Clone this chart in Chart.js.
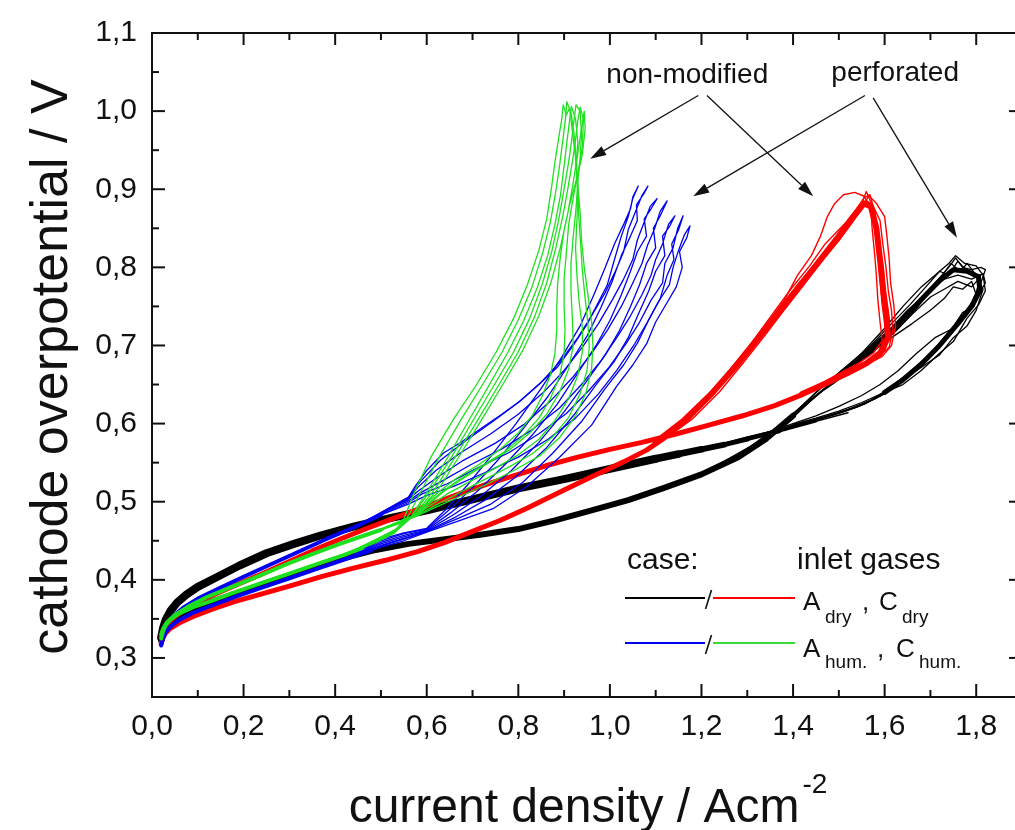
<!DOCTYPE html>
<html>
<head>
<meta charset="utf-8">
<script src="https://cdn.jsdelivr.net/npm/chart.js@4.4.0/dist/chart.umd.min.js"></script>
<style>
  html, body { margin: 0; padding: 0; background: #fff; overflow: hidden; }
  #wrap { width: 1040px; height: 830px; }
</style>
</head>
<body>
<div id="wrap"><canvas id="chart" width="1040" height="830"></canvas></div>
<script>
// axis ticks
const xTicks = [0, 0.2, 0.4, 0.6, 0.8, 1.0, 1.2, 1.4, 1.6, 1.8];
const xMinor = [0.1, 0.3, 0.5, 0.7, 0.9, 1.1, 1.3, 1.5, 1.7];
const yTicks = [0.3, 0.4, 0.5, 0.6, 0.7, 0.8, 0.9, 1.0, 1.1];
const yMinor = [0.35, 0.45, 0.55, 0.65, 0.75, 0.85, 0.95, 1.05];

// black: perforated, A_dry / C_dry
const blackFlat = [[0.02,0.326],[0.024,0.338],[0.03,0.349],[0.04,0.36],[0.055,0.371],[0.075,0.381],[0.1,0.391],[0.14,0.403],[0.19,0.418],[0.25,0.434],[0.31,0.446],[0.37,0.457],[0.44,0.468],[0.52,0.479],[0.6,0.489],[0.7,0.503],[0.8,0.517],[0.9,0.529],[1.0,0.542],[1.1,0.555],[1.15,0.561],[1.2,0.567],[1.25,0.573],[1.3,0.58],[1.37,0.59],[1.45,0.603],[1.52,0.614]];
const blackSteep = [[0.02,0.322],[0.024,0.332],[0.03,0.34],[0.04,0.347],[0.055,0.354],[0.08,0.361],[0.11,0.368],[0.15,0.376],[0.2,0.386],[0.26,0.398],[0.32,0.41],[0.4,0.425],[0.48,0.437],[0.56,0.446],[0.64,0.452],[0.72,0.458],[0.8,0.465],[0.88,0.476],[0.96,0.489],[1.04,0.502],[1.12,0.518],[1.2,0.535],[1.28,0.557],[1.34,0.58],[1.4,0.61]];
const blackTop = [[1.5,0.66],[1.55,0.684],[1.6,0.71],[1.65,0.74],[1.69,0.765],[1.72,0.783],[1.75,0.797],[1.78,0.795],[1.805,0.788],[1.808,0.77],[1.79,0.75],[1.76,0.728],[1.72,0.7],[1.68,0.676],[1.64,0.656],[1.6,0.64]];
const blackCycles = [
  [[1.2,0.535],[1.26,0.552],[1.32,0.572],[1.38,0.597],[1.44,0.63],[1.5,0.66],[1.55,0.684],[1.6,0.71],[1.64,0.735],[1.68,0.76],[1.71,0.78],[1.74,0.8],[1.755,0.812],[1.77,0.8],[1.79,0.797],[1.81,0.8],[1.82,0.797],[1.81,0.78],[1.79,0.755],[1.76,0.73],[1.72,0.7],[1.68,0.675],[1.64,0.655],[1.6,0.638],[1.55,0.624],[1.5,0.614],[1.45,0.605],[1.4,0.597],[1.35,0.59],[1.3,0.582],[1.25,0.574]],
  [[1.2,0.537],[1.25,0.552],[1.31,0.572],[1.37,0.598],[1.43,0.628],[1.49,0.652],[1.54,0.676],[1.59,0.7],[1.63,0.722],[1.67,0.748],[1.7,0.77],[1.73,0.785],[1.76,0.79],[1.79,0.785],[1.815,0.792],[1.82,0.78],[1.8,0.76],[1.775,0.74],[1.745,0.72],[1.71,0.694],[1.67,0.672],[1.63,0.652],[1.59,0.635],[1.54,0.621],[1.49,0.611],[1.44,0.603],[1.39,0.595],[1.34,0.588],[1.3,0.581],[1.25,0.573]],
  [[1.2,0.534],[1.27,0.556],[1.33,0.578],[1.39,0.606],[1.45,0.64],[1.51,0.67],[1.56,0.694],[1.61,0.72],[1.65,0.745],[1.69,0.766],[1.72,0.785],[1.745,0.805],[1.765,0.795],[1.78,0.805],[1.8,0.79],[1.81,0.77],[1.795,0.75],[1.77,0.742],[1.74,0.715],[1.7,0.69],[1.66,0.668],[1.62,0.648],[1.58,0.632],[1.53,0.62],[1.48,0.61],[1.43,0.601],[1.38,0.594],[1.33,0.587],[1.3,0.583],[1.25,0.575]],
  [[1.2,0.536],[1.25,0.549],[1.3,0.566],[1.36,0.59],[1.42,0.622],[1.47,0.646],[1.52,0.668],[1.57,0.69],[1.62,0.716],[1.66,0.74],[1.7,0.762],[1.73,0.772],[1.76,0.782],[1.79,0.775],[1.805,0.785],[1.815,0.772],[1.8,0.745],[1.78,0.725],[1.75,0.71],[1.72,0.688],[1.69,0.676],[1.65,0.66],[1.61,0.642],[1.56,0.626],[1.51,0.615],[1.46,0.607],[1.41,0.6],[1.36,0.591],[1.3,0.582],[1.25,0.574]],
  [[1.2,0.535],[1.27,0.557],[1.34,0.583],[1.4,0.612],[1.46,0.645],[1.52,0.675],[1.57,0.7],[1.615,0.728],[1.655,0.752],[1.69,0.775],[1.72,0.795],[1.74,0.79],[1.76,0.808],[1.785,0.792],[1.81,0.79],[1.8,0.768],[1.785,0.748],[1.755,0.728],[1.725,0.705],[1.69,0.684],[1.65,0.664],[1.61,0.645],[1.57,0.63],[1.52,0.618],[1.47,0.609],[1.42,0.601],[1.37,0.593],[1.32,0.585],[1.3,0.582],[1.25,0.573]],
  [[1.3,0.566],[1.38,0.6],[1.46,0.64],[1.53,0.672],[1.58,0.695],[1.62,0.712],[1.66,0.728],[1.7,0.745],[1.73,0.76],[1.75,0.775],[1.77,0.772],[1.79,0.782],[1.8,0.765],[1.78,0.74],[1.75,0.722],[1.71,0.71],[1.67,0.69],[1.63,0.668],[1.59,0.65],[1.55,0.636],[1.5,0.622],[1.45,0.61],[1.4,0.6],[1.35,0.59]],
  [[1.32,0.574],[1.4,0.61],[1.48,0.65],[1.55,0.69],[1.6,0.722],[1.64,0.75],[1.68,0.775],[1.71,0.79],[1.74,0.805],[1.755,0.815],[1.775,0.805],[1.8,0.802],[1.815,0.79],[1.82,0.77],[1.805,0.752],[1.78,0.735],[1.75,0.705],[1.72,0.69],[1.68,0.668],[1.64,0.65],[1.6,0.64],[1.55,0.627],[1.5,0.616],[1.45,0.607],[1.4,0.599]]
];

// red: non-modified, A_dry / C_dry
const redFwd = [[0.02,0.318],[0.024,0.326],[0.03,0.332],[0.04,0.338],[0.06,0.345],[0.09,0.353],[0.13,0.362],[0.18,0.372],[0.24,0.382],[0.3,0.392],[0.37,0.404],[0.44,0.415],[0.51,0.425],[0.58,0.436],[0.64,0.448],[0.7,0.462],[0.76,0.476],[0.82,0.492],[0.89,0.512],[0.96,0.532],[1.03,0.551],[1.08,0.566],[1.12,0.582]];
const redRet = [[1.42,0.637],[1.36,0.623],[1.29,0.61],[1.21,0.597],[1.14,0.586],[1.07,0.576],[1.0,0.567],[0.93,0.557],[0.86,0.546],[0.8,0.535],[0.74,0.524],[0.68,0.512],[0.62,0.499],[0.57,0.488],[0.52,0.477],[0.47,0.466],[0.41,0.452],[0.35,0.437],[0.29,0.421],[0.23,0.405],[0.17,0.39],[0.12,0.377],[0.08,0.365],[0.05,0.353],[0.033,0.343],[0.024,0.334],[0.02,0.327]];
const redCore = [[1.1,0.576],[1.16,0.603],[1.22,0.637],[1.28,0.677],[1.33,0.714],[1.38,0.75],[1.42,0.78],[1.46,0.81],[1.5,0.84],[1.53,0.864],[1.555,0.882],[1.57,0.878],[1.582,0.85],[1.59,0.81],[1.597,0.77],[1.605,0.735],[1.607,0.71],[1.59,0.69],[1.56,0.677],[1.52,0.665],[1.47,0.651],[1.42,0.638]];
const redCycles = [
  [[1.12,0.582],[1.17,0.603],[1.22,0.633],[1.27,0.668],[1.32,0.706],[1.36,0.737],[1.4,0.768],[1.44,0.798],[1.48,0.827],[1.51,0.851],[1.535,0.872],[1.555,0.889],[1.568,0.893],[1.578,0.872],[1.582,0.845],[1.586,0.815],[1.59,0.785],[1.594,0.755],[1.6,0.728],[1.604,0.705],[1.59,0.69],[1.565,0.679],[1.53,0.668],[1.49,0.657],[1.45,0.646],[1.42,0.638]],
  [[1.12,0.584],[1.18,0.612],[1.23,0.643],[1.28,0.68],[1.33,0.718],[1.37,0.748],[1.41,0.778],[1.45,0.806],[1.49,0.834],[1.52,0.857],[1.545,0.875],[1.562,0.885],[1.575,0.878],[1.59,0.86],[1.596,0.83],[1.603,0.8],[1.608,0.77],[1.615,0.745],[1.618,0.72],[1.61,0.698],[1.585,0.684],[1.55,0.673],[1.51,0.662],[1.47,0.65],[1.42,0.637]],
  [[1.12,0.583],[1.19,0.619],[1.25,0.656],[1.3,0.694],[1.35,0.733],[1.38,0.757],[1.41,0.79],[1.44,0.815],[1.46,0.84],[1.475,0.865],[1.49,0.881],[1.51,0.893],[1.535,0.896],[1.555,0.891],[1.57,0.875],[1.573,0.848],[1.578,0.818],[1.582,0.79],[1.585,0.76],[1.59,0.73],[1.595,0.706],[1.575,0.69],[1.545,0.678],[1.5,0.664],[1.46,0.651],[1.42,0.639]],
  [[1.12,0.58],[1.18,0.606],[1.24,0.641],[1.29,0.677],[1.34,0.714],[1.38,0.745],[1.42,0.775],[1.46,0.806],[1.5,0.834],[1.53,0.858],[1.55,0.874],[1.565,0.892],[1.582,0.882],[1.6,0.865],[1.605,0.84],[1.61,0.81],[1.613,0.78],[1.62,0.752],[1.624,0.725],[1.615,0.7],[1.595,0.686],[1.56,0.675],[1.52,0.664],[1.47,0.651],[1.42,0.636]],
  [[1.12,0.585],[1.17,0.607],[1.22,0.637],[1.27,0.675],[1.31,0.704],[1.355,0.74],[1.395,0.772],[1.435,0.801],[1.47,0.83],[1.5,0.848],[1.53,0.866],[1.548,0.878],[1.56,0.897],[1.57,0.883],[1.58,0.86],[1.588,0.828],[1.597,0.8],[1.601,0.768],[1.608,0.74],[1.612,0.712],[1.6,0.694],[1.575,0.681],[1.54,0.67],[1.5,0.658],[1.46,0.647],[1.42,0.637]]
];

// green: non-modified, A_hum. / C_hum.
const greenFwd = [[0.02,0.325],[0.024,0.334],[0.03,0.342],[0.04,0.349],[0.06,0.357],[0.09,0.365],[0.13,0.373],[0.18,0.384],[0.24,0.396],[0.3,0.408],[0.36,0.42],[0.42,0.432],[0.46,0.441]];
const greenRet = [[0.5,0.464],[0.47,0.458],[0.41,0.446],[0.35,0.433],[0.29,0.419],[0.23,0.404],[0.17,0.39],[0.12,0.378],[0.08,0.366],[0.05,0.355],[0.032,0.345],[0.024,0.337],[0.02,0.33]];
const greenCycles = [
  [[0.42,0.432],[0.49,0.449],[0.53,0.461],[0.55,0.478],[0.575,0.515],[0.61,0.558],[0.66,0.607],[0.71,0.651],[0.752,0.692],[0.79,0.735],[0.82,0.778],[0.845,0.822],[0.862,0.862],[0.872,0.9],[0.88,0.935],[0.888,0.965],[0.895,0.99],[0.898,1.008],[0.905,0.995],[0.912,1.004],[0.918,0.975],[0.925,0.94],[0.93,0.905],[0.935,0.87],[0.938,0.835],[0.944,0.8],[0.952,0.765],[0.96,0.73],[0.963,0.7],[0.96,0.67],[0.948,0.64],[0.925,0.61],[0.89,0.582],[0.845,0.558],[0.79,0.54],[0.73,0.522],[0.67,0.506],[0.62,0.493],[0.58,0.482],[0.54,0.473],[0.47,0.458]],
  [[0.42,0.432],[0.49,0.448],[0.53,0.46],[0.56,0.482],[0.59,0.516],[0.63,0.56],[0.675,0.605],[0.722,0.65],[0.765,0.692],[0.8,0.733],[0.83,0.775],[0.853,0.818],[0.87,0.858],[0.882,0.898],[0.89,0.93],[0.897,0.962],[0.903,0.99],[0.906,1.012],[0.915,0.998],[0.922,0.97],[0.927,0.935],[0.93,0.9],[0.932,0.865],[0.936,0.83],[0.94,0.795],[0.946,0.76],[0.952,0.728],[0.955,0.698],[0.95,0.668],[0.935,0.638],[0.91,0.608],[0.875,0.583],[0.83,0.561],[0.775,0.543],[0.715,0.525],[0.66,0.508],[0.615,0.494],[0.58,0.483],[0.54,0.474],[0.47,0.458]],
  [[0.42,0.432],[0.49,0.45],[0.53,0.462],[0.565,0.48],[0.6,0.512],[0.645,0.556],[0.69,0.602],[0.735,0.648],[0.778,0.692],[0.812,0.732],[0.842,0.775],[0.864,0.815],[0.88,0.855],[0.892,0.892],[0.9,0.93],[0.906,0.96],[0.912,0.988],[0.916,1.006],[0.925,0.99],[0.93,0.96],[0.926,0.93],[0.93,0.895],[0.928,0.86],[0.925,0.825],[0.928,0.79],[0.933,0.755],[0.94,0.722],[0.94,0.692],[0.93,0.662],[0.91,0.632],[0.88,0.604],[0.845,0.58],[0.8,0.56],[0.75,0.543],[0.695,0.526],[0.645,0.51],[0.61,0.496],[0.58,0.484],[0.54,0.475],[0.47,0.458]],
  [[0.42,0.432],[0.49,0.451],[0.53,0.463],[0.57,0.483],[0.61,0.516],[0.655,0.558],[0.7,0.603],[0.748,0.65],[0.79,0.692],[0.825,0.735],[0.852,0.778],[0.873,0.82],[0.888,0.86],[0.9,0.9],[0.91,0.935],[0.917,0.965],[0.922,0.99],[0.926,1.008],[0.935,1.0],[0.938,0.97],[0.935,0.94],[0.93,0.91],[0.926,0.875],[0.92,0.84],[0.915,0.805],[0.915,0.77],[0.918,0.735],[0.92,0.7],[0.91,0.67],[0.89,0.64],[0.862,0.612],[0.825,0.588],[0.78,0.566],[0.73,0.548],[0.68,0.53],[0.635,0.512],[0.605,0.497],[0.58,0.483],[0.54,0.472],[0.47,0.458]],
  [[0.42,0.432],[0.49,0.449],[0.53,0.461],[0.575,0.484],[0.62,0.518],[0.665,0.56],[0.712,0.605],[0.758,0.65],[0.8,0.692],[0.835,0.736],[0.862,0.78],[0.882,0.825],[0.897,0.865],[0.908,0.9],[0.918,0.935],[0.925,0.963],[0.93,0.988],[0.935,1.005],[0.942,0.99],[0.94,0.955],[0.932,0.925],[0.92,0.89],[0.91,0.855],[0.905,0.82],[0.9,0.785],[0.9,0.75],[0.902,0.72],[0.9,0.69],[0.89,0.66],[0.87,0.632],[0.845,0.607],[0.81,0.584],[0.77,0.564],[0.72,0.546],[0.67,0.528],[0.63,0.511],[0.6,0.496],[0.58,0.482],[0.54,0.473],[0.47,0.458]],
  [[0.42,0.432],[0.49,0.452],[0.53,0.464],[0.58,0.486],[0.63,0.52],[0.675,0.562],[0.722,0.607],[0.768,0.652],[0.81,0.694],[0.845,0.738],[0.872,0.782],[0.892,0.826],[0.907,0.866],[0.918,0.902],[0.927,0.935],[0.934,0.962],[0.94,0.985],[0.944,1.0],[0.946,0.978],[0.94,0.945],[0.928,0.915],[0.912,0.88],[0.9,0.848],[0.892,0.815],[0.886,0.78],[0.884,0.75],[0.884,0.72],[0.88,0.69],[0.87,0.662],[0.852,0.635],[0.83,0.61],[0.8,0.588],[0.76,0.567],[0.715,0.548],[0.665,0.53],[0.625,0.512],[0.598,0.497],[0.58,0.483],[0.54,0.474],[0.47,0.458]]
];

// blue: perforated, A_hum. / C_hum.
const blueFwd = [[0.02,0.316],[0.024,0.325],[0.03,0.333],[0.04,0.34],[0.06,0.349],[0.09,0.358],[0.13,0.367],[0.18,0.378],[0.24,0.39],[0.3,0.402],[0.36,0.414],[0.42,0.426],[0.48,0.438]];
const blueRet = [[0.5,0.483],[0.44,0.467],[0.38,0.452],[0.32,0.436],[0.26,0.42],[0.2,0.404],[0.15,0.39],[0.1,0.376],[0.07,0.365],[0.045,0.353],[0.03,0.342],[0.024,0.334],[0.02,0.327]];
const blueCycles = [
  [[0.44,0.43],[0.5,0.442],[0.55,0.45],[0.6,0.461],[0.673,0.476],[0.745,0.491],[0.82,0.52],[0.89,0.557],[0.96,0.598],[1.015,0.648],[1.05,0.675],[1.08,0.702],[1.1,0.73],[1.125,0.755],[1.145,0.775],[1.158,0.8],[1.152,0.82],[1.168,0.838],[1.175,0.853],[1.163,0.842],[1.15,0.822],[1.138,0.8],[1.13,0.778],[1.105,0.755],[1.082,0.73],[1.052,0.7],[1.015,0.668],[0.975,0.638],[0.925,0.607],[0.865,0.58],[0.8,0.557],[0.73,0.538],[0.66,0.52],[0.6,0.508],[0.56,0.497],[0.5,0.483],[0.44,0.467]],
  [[0.44,0.43],[0.5,0.443],[0.55,0.452],[0.6,0.462],[0.67,0.479],[0.74,0.497],[0.81,0.525],[0.875,0.562],[0.94,0.604],[0.99,0.645],[1.03,0.675],[1.06,0.703],[1.085,0.733],[1.11,0.76],[1.125,0.79],[1.14,0.81],[1.135,0.83],[1.15,0.848],[1.16,0.866],[1.148,0.85],[1.138,0.825],[1.12,0.805],[1.115,0.78],[1.09,0.758],[1.065,0.73],[1.035,0.702],[0.998,0.672],[0.955,0.643],[0.905,0.613],[0.845,0.587],[0.78,0.563],[0.71,0.543],[0.645,0.523],[0.59,0.51],[0.56,0.499],[0.5,0.483],[0.44,0.467]],
  [[0.44,0.43],[0.5,0.444],[0.55,0.453],[0.6,0.462],[0.665,0.481],[0.73,0.503],[0.795,0.532],[0.86,0.568],[0.92,0.61],[0.97,0.65],[1.01,0.68],[1.04,0.71],[1.062,0.74],[1.085,0.77],[1.1,0.795],[1.12,0.815],[1.115,0.84],[1.13,0.852],[1.142,0.866],[1.128,0.855],[1.115,0.83],[1.1,0.81],[1.09,0.79],[1.07,0.765],[1.045,0.738],[1.015,0.71],[0.98,0.68],[0.938,0.65],[0.89,0.62],[0.83,0.592],[0.765,0.568],[0.695,0.547],[0.635,0.527],[0.585,0.511],[0.56,0.501],[0.5,0.484],[0.44,0.467]],
  [[0.44,0.431],[0.5,0.446],[0.55,0.455],[0.6,0.463],[0.66,0.484],[0.72,0.508],[0.785,0.54],[0.845,0.576],[0.9,0.615],[0.95,0.655],[0.99,0.688],[1.02,0.718],[1.045,0.75],[1.065,0.778],[1.08,0.805],[1.1,0.825],[1.095,0.85],[1.11,0.866],[1.125,0.885],[1.11,0.872],[1.098,0.85],[1.082,0.828],[1.07,0.805],[1.05,0.78],[1.025,0.75],[0.995,0.72],[0.96,0.69],[0.92,0.66],[0.872,0.63],[0.815,0.6],[0.75,0.575],[0.68,0.553],[0.625,0.532],[0.58,0.513],[0.56,0.503],[0.5,0.485],[0.44,0.467]],
  [[0.44,0.431],[0.5,0.448],[0.55,0.457],[0.6,0.464],[0.655,0.487],[0.71,0.513],[0.77,0.547],[0.83,0.585],[0.885,0.625],[0.93,0.665],[0.97,0.7],[1.0,0.732],[1.025,0.765],[1.045,0.795],[1.06,0.82],[1.08,0.84],[1.075,0.862],[1.09,0.875],[1.103,0.888],[1.088,0.878],[1.075,0.858],[1.06,0.835],[1.05,0.81],[1.03,0.785],[1.005,0.758],[0.975,0.728],[0.94,0.698],[0.9,0.668],[0.855,0.64],[0.8,0.612],[0.74,0.587],[0.675,0.563],[0.62,0.54],[0.58,0.518],[0.56,0.504],[0.5,0.485],[0.44,0.467]],
  [[0.44,0.432],[0.5,0.45],[0.55,0.459],[0.6,0.465],[0.65,0.49],[0.7,0.518],[0.755,0.553],[0.81,0.593],[0.865,0.635],[0.91,0.675],[0.95,0.712],[0.98,0.748],[1.005,0.782],[1.025,0.815],[1.045,0.84],[1.06,0.86],[1.058,0.88],[1.075,0.895],[1.083,0.904],[1.07,0.892],[1.055,0.87],[1.04,0.848],[1.03,0.82],[1.012,0.795],[0.99,0.768],[0.962,0.74],[0.93,0.71],[0.892,0.68],[0.85,0.653],[0.8,0.627],[0.745,0.603],[0.685,0.578],[0.63,0.553],[0.585,0.525],[0.56,0.505],[0.5,0.486],[0.44,0.467]],
  [[0.44,0.432],[0.5,0.452],[0.55,0.46],[0.6,0.466],[0.645,0.492],[0.69,0.522],[0.74,0.558],[0.795,0.6],[0.85,0.645],[0.895,0.685],[0.935,0.725],[0.965,0.765],[0.99,0.8],[1.01,0.83],[1.03,0.855],[1.045,0.875],[1.05,0.89],[1.062,0.904],[1.05,0.888],[1.04,0.865],[1.025,0.84],[1.01,0.81],[0.994,0.777],[0.972,0.752],[0.95,0.727],[0.92,0.7],[0.885,0.672],[0.845,0.65],[0.804,0.629],[0.764,0.612],[0.724,0.596],[0.68,0.578],[0.636,0.562],[0.6,0.54],[0.575,0.52],[0.56,0.506],[0.5,0.486],[0.44,0.467]]
];

// annotations (data coordinates): arrows [x0, y0, x1, y1]
const arrows = [[1.193,1.02,0.957,0.939],[1.212,1.02,1.444,0.891],[1.557,1.02,1.182,0.891],[1.575,1.017,1.758,0.838]];
const notes = [['non-modified', 1.169, 1.036], ['perforated', 1.623, 1.039]];

const COL = { black: '#000000', red: '#ff0000', green: '#1ee01e', blue: '#0000f0' };
const FONT = '"Liberation Sans", Arial, sans-serif';

// thinFrom: band gets narrower beyond this current density
function line(arr, color, width, thinFrom) {
  const ds = {
    data: arr.map(p => ({ x: p[0], y: p[1] })),
    borderColor: color,
    borderWidth: width,
    pointRadius: 0,
    showLine: true,
    fill: false,
    tension: 0,
    borderJoinStyle: 'round',
    borderCapStyle: 'round'
  };
  if (thinFrom) {
    ds.segment = {
      borderWidth: c => {
        const x = (c.p0.parsed.x + c.p1.parsed.x) / 2;
        return x <= thinFrom ? width : Math.max(1.5, width - (x - thinFrom) * 18);
      }
    };
  }
  return ds;
}

// first dataset is drawn on top
const datasets = [];
greenCycles.forEach(c => datasets.push(line(c, COL.green, 1.3)));
datasets.push(line(greenFwd, COL.green, 4));
datasets.push(line(greenRet, COL.green, 4));
blueCycles.forEach(c => datasets.push(line(c, COL.blue, 1.3)));
datasets.push(line(blueFwd, COL.blue, 4));
datasets.push(line(blueRet, COL.blue, 4));
redCycles.forEach(c => datasets.push(line(c, COL.red, 1.4)));
datasets.push(line(redCore, COL.red, 6));
datasets.push(line(redFwd, COL.red, 5));
datasets.push(line(redRet, COL.red, 5));
blackCycles.forEach(c => datasets.push(line(c, COL.black, 1.3)));
datasets.push(line(blackTop, COL.black, 5));
datasets.push(line(blackSteep, COL.black, 6));
datasets.push(line(blackFlat, COL.black, 8, 1.1));

function fmt(v) { return Number(v).toFixed(1).replace('.', ','); }

function seg(ctx, x0, y0, x1, y1) {
  ctx.beginPath(); ctx.moveTo(x0, y0); ctx.lineTo(x1, y1); ctx.stroke();
}

function txt(ctx, s, x, y, size, align) {
  ctx.font = size + 'px ' + FONT;
  ctx.textAlign = align || 'left';
  ctx.textBaseline = 'alphabetic';
  ctx.fillText(s, x, y);
  return ctx.measureText(s).width;
}

const decor = {
  id: 'decor',
  afterDatasetsDraw(chart) {
    const ctx = chart.ctx;
    const a = chart.chartArea;
    const xs = chart.scales.x, ys = chart.scales.y;
    ctx.save();
    ctx.strokeStyle = '#111';
    ctx.fillStyle = '#111';

    // frame
    ctx.lineWidth = 2;
    ctx.strokeRect(a.left, a.top, a.right - a.left, a.bottom - a.top);

    // inward ticks on all four sides
    xTicks.forEach(v => {
      const p = xs.getPixelForValue(v);
      seg(ctx, p, a.bottom, p, a.bottom - 13);
      seg(ctx, p, a.top, p, a.top + 12);
    });
    xMinor.forEach(v => {
      const p = xs.getPixelForValue(v);
      seg(ctx, p, a.bottom, p, a.bottom - 7);
      seg(ctx, p, a.top, p, a.top + 7);
    });
    yTicks.forEach(v => {
      const p = ys.getPixelForValue(v);
      seg(ctx, a.left, p, a.left + 13, p);
      seg(ctx, a.right, p, a.right - 13, p);
    });
    yMinor.forEach(v => {
      const p = ys.getPixelForValue(v);
      seg(ctx, a.left, p, a.left + 7, p);
      seg(ctx, a.right, p, a.right - 7, p);
    });

    // arrows
    ctx.lineWidth = 1.3;
    arrows.forEach(r => {
      const x0 = xs.getPixelForValue(r[0]), y0 = ys.getPixelForValue(r[1]);
      const x1 = xs.getPixelForValue(r[2]), y1 = ys.getPixelForValue(r[3]);
      const ang = Math.atan2(y1 - y0, x1 - x0);
      const L = 16, W = 5;
      const bx = x1 - L * Math.cos(ang), by = y1 - L * Math.sin(ang);
      seg(ctx, x0, y0, bx, by);
      ctx.beginPath();
      ctx.moveTo(x1, y1);
      ctx.lineTo(bx + W * Math.sin(ang), by - W * Math.cos(ang));
      ctx.lineTo(bx - W * Math.sin(ang), by + W * Math.cos(ang));
      ctx.closePath();
      ctx.fill();
    });
    notes.forEach(n => {
      txt(ctx, n[0], xs.getPixelForValue(n[1]), ys.getPixelForValue(n[2]), 28, 'center');
    });

    // legend
    ctx.fillStyle = '#111';
    txt(ctx, 'case:', 627, 569, 30);
    txt(ctx, 'inlet gases', 797, 569, 30);
    const rows = [
      { y: 598, c1: COL.black, c2: COL.red, sub: 'dry', base: 610, sb: 623, comma: 862, cx: 879, csub: 902 },
      { y: 643, c1: COL.blue, c2: '#3ad83a', sub: 'hum.', base: 657, sb: 668, comma: 877, cx: 896, csub: 919 }
    ];
    rows.forEach(r => {
      ctx.lineWidth = 2.2;
      ctx.strokeStyle = r.c1; seg(ctx, 625, r.y, 705, r.y);
      ctx.strokeStyle = r.c2; seg(ctx, 713, r.y, 795, r.y);
      ctx.strokeStyle = '#111'; ctx.lineWidth = 1.6;
      seg(ctx, 705.5, r.y + 11, 711.5, r.y - 8);
      ctx.fillStyle = '#111';
      txt(ctx, 'A', 803, r.base, 26);
      txt(ctx, r.sub, 825, r.sb, 19);
      txt(ctx, ',', r.comma, r.base, 26);
      txt(ctx, 'C', r.cx, r.base, 26);
      txt(ctx, r.sub, r.csub, r.sb, 19);
    });

    // axis titles
    ctx.fillStyle = '#111';
    ctx.font = '48px ' + FONT;
    const main = 'current density / Acm';
    const wMain = ctx.measureText(main).width;
    ctx.font = '28px ' + FONT;
    const wSup = ctx.measureText('-2').width;
    const x0 = 588 - (wMain + 3 + wSup) / 2;
    txt(ctx, main, x0, 822, 48);
    txt(ctx, '-2', x0 + wMain + 3, 793, 28);

    ctx.translate(67, 367);
    ctx.rotate(-Math.PI / 2);
    txt(ctx, 'cathode overpotential / V', 0, 0, 52, 'center');
    ctx.restore();
  }
};

new Chart(document.getElementById('chart'), {
  type: 'scatter',
  data: { datasets },
  options: {
    responsive: false,
    animation: false,
    devicePixelRatio: 1,
    events: [],
    layout: { padding: { left: 0, top: 25, right: 18, bottom: 0 } },
    plugins: { legend: { display: false }, tooltip: { enabled: false } },
    scales: {
      x: {
        type: 'linear', min: 0, max: 1.9,
        afterFit: s => { s.height = 133; },
        afterBuildTicks: s => { s.ticks = xTicks.map(v => ({ value: v })); },
        grid: { display: false, drawTicks: false },
        border: { display: false },
        ticks: { autoSkip: false, maxRotation: 0, padding: 12, color: '#111', font: { family: FONT, size: 30 }, callback: v => fmt(v) }
      },
      y: {
        type: 'linear', min: 0.25, max: 1.1,
        afterFit: s => { s.width = 152; },
        afterBuildTicks: s => { s.ticks = yTicks.map(v => ({ value: v })); },
        grid: { display: false, drawTicks: false },
        border: { display: false },
        ticks: { autoSkip: false, padding: 15, color: '#111', font: { family: FONT, size: 30 }, callback: v => fmt(v) }
      }
    }
  },
  plugins: [decor]
});
</script>
</body>
</html>
